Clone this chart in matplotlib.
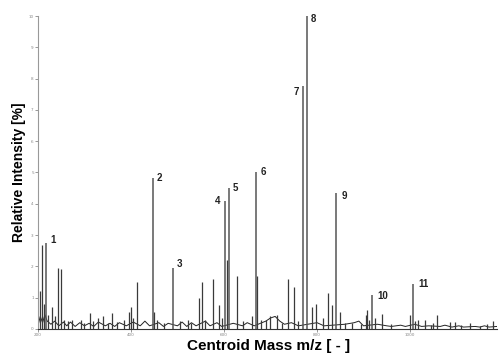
import matplotlib
matplotlib.use("Agg")
import matplotlib.pyplot as plt

# Main (labelled) peaks: mass, relative intensity, label
main_mass = [217.2, 447.3, 490.3, 602.1, 610.7, 668.8, 769.9, 778.5, 840.8, 918.3, 1006.4]
main_int = [2.75, 4.82, 1.95, 4.10, 4.50, 5.00, 7.76, 10.0, 4.35, 1.10, 1.44]
main_lbl = ["1", "2", "3", "4", "5", "6", "7", "8", "9", "10", "11"]

# Minor peaks
minor_mass = [204.3, 208.6, 230.1, 243.0, 249.5, 273.1, 292.5, 311.8, 329.0, 339.8,
              359.1, 384.9, 395.7, 400.0, 412.9, 522.6, 546.2, 552.7, 576.3, 589.2,
              606.0, 627.9, 660.2, 671.0, 679.6, 714.0, 737.6, 750.5, 789.2, 797.8,
              823.6, 832.2, 849.4, 875.3, 905.4, 907.5, 924.7, 939.8, 1000.0, 1017.2,
              1032.2, 1049.4, 1058.0, 1086.0, 1096.7, 1129.0, 1165.5, 1178.5, 450.0,
              213.0, 222.0, 236.0, 255.0, 265.0, 300.0, 318.0, 350.0, 370.0, 405.0,
              455.0, 470.0, 505.0, 530.0, 560.0, 595.0, 640.0, 690.0, 700.0, 725.0,
              760.0, 812.0, 860.0, 895.0, 912.0, 960.0, 1010.0, 1045.0, 1110.0, 1150.0]
minor_int = [1.20, 2.68, 0.70, 1.95, 1.90, 0.30, 0.30, 0.50, 0.35, 0.40,
             0.50, 0.30, 0.55, 0.70, 1.50, 0.30, 1.00, 1.50, 1.60, 0.75,
             2.20, 1.70, 0.40, 1.70, 0.30, 0.45, 1.60, 1.35, 0.70, 0.80,
             1.15, 0.77, 0.55, 0.20, 0.45, 0.60, 0.35, 0.47, 0.45, 0.30,
             0.30, 0.20, 0.45, 0.22, 0.22, 0.20, 0.15, 0.25, 0.55,
             0.80, 0.45, 0.40, 0.30, 0.25, 0.20, 0.25, 0.20, 0.22, 0.35,
             0.30, 0.20, 0.25, 0.20, 0.30, 0.35, 0.25, 0.30, 0.40, 0.20,
             0.25, 0.35, 0.20, 0.15, 0.30, 0.15, 0.25, 0.12, 0.12, 0.10]

# Baseline noise trace
base_mass = [200, 205, 210, 215, 220, 228, 236, 245, 255, 262, 270, 280, 290, 300, 310,
             320, 330, 345, 355, 365, 375, 390, 405, 420, 430, 440, 460, 470, 480, 500,
             510, 520, 530, 540, 560, 570, 585, 595, 620, 640, 650, 665, 690, 700, 710,
             720, 730, 745, 760, 800, 815, 860, 880, 890, 900, 930, 950, 960, 980, 990,
             1010, 1025, 1040, 1065, 1075, 1090, 1105, 1115, 1140, 1150, 1160, 1170, 1187]
base_int = [0.10, 0.40, 0.20, 0.45, 0.25, 0.15, 0.25, 0.10, 0.22, 0.10, 0.22, 0.08, 0.20, 0.10, 0.18,
            0.08, 0.22, 0.10, 0.18, 0.08, 0.20, 0.10, 0.22, 0.10, 0.25, 0.10, 0.20, 0.08, 0.18, 0.10,
            0.22, 0.08, 0.20, 0.10, 0.25, 0.10, 0.20, 0.08, 0.18, 0.10, 0.20, 0.10, 0.25, 0.35, 0.40,
            0.25, 0.15, 0.20, 0.10, 0.20, 0.10, 0.15, 0.20, 0.25, 0.10, 0.15, 0.10, 0.08, 0.12, 0.08,
            0.15, 0.08, 0.10, 0.08, 0.12, 0.06, 0.10, 0.06, 0.08, 0.06, 0.10, 0.06, 0.08]

x_ticks = [200, 400, 600, 800, 1000]
y_ticks = [0, 1, 2, 3, 4, 5, 6, 7, 8, 9, 10]

fig = plt.figure(figsize=(4.99, 3.56), dpi=100)
ax = fig.add_axes([0.076, 0.076, 0.92, 0.879])

ax.plot(base_mass, base_int, color="#222222", lw=0.7)
ax.vlines(minor_mass, 0, minor_int, color="#3a3a3a", lw=0.9)
ax.vlines(main_mass, 0, main_int, color="#555555", lw=1.1)

offsets = {"1": (3, 2), "2": (3, 0), "3": (3, 3), "4": (-3, 0), "5": (3, 0),
           "6": (3, 0), "7": (-3, -4), "8": (3, -2), "9": (4, -2), "10": (4, -1), "11": (4, 0)}
for m, v, t in zip(main_mass, main_int, main_lbl):
    dx, dy = offsets[t]
    ha = "right" if dx < 0 else "left"
    ax.annotate(t, (m, v), xytext=(dx, dy), textcoords="offset points",
                ha=ha, va="center", fontsize=7, fontweight="bold",
                family="Liberation Sans", color="#222222")

ax.set_xlim(200, 1187)
ax.set_ylim(0, 10)
ax.set_xticks(x_ticks)
ax.set_yticks(y_ticks)
ax.tick_params(labelsize=3, colors="#888888", length=2, width=0.6, pad=1)
for s in ["top", "right"]:
    ax.spines[s].set_visible(False)
ax.spines["left"].set_color("#999999")
ax.spines["bottom"].set_color("#333333")
ax.spines["left"].set_linewidth(0.8)
ax.spines["bottom"].set_linewidth(0.8)

ax.set_xlabel("Centroid Mass m/z [ - ]", fontsize=11, fontweight="bold",
              family="Liberation Sans")
ax.xaxis.set_label_coords(0.502, -0.033)
ax.set_ylabel("Relative Intensity [%]", fontsize=10, fontweight="bold",
              family="Liberation Sans")
ax.yaxis.set_label_coords(-0.025, 0.5)

fig.savefig("out.png", dpi=100)
